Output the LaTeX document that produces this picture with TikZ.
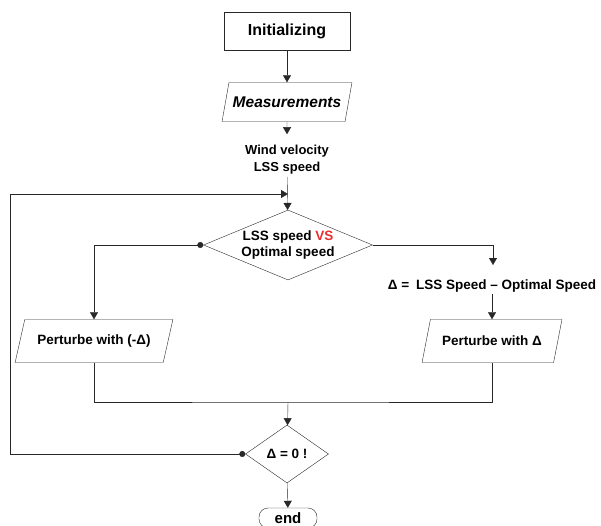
\documentclass[tikz,border=0pt]{standalone}
\usepackage{fontspec}
\setmainfont{Liberation Sans}
\usepackage{tikz}
\usepackage{xcolor}
\usetikzlibrary{shapes.geometric,arrows.meta}
\definecolor{vsred}{RGB}{235, 45, 45}
\definecolor{linegray}{RGB}{40, 40, 40}
\tikzstyle{process} = [
    rectangle,
    minimum width=126pt,
    minimum height=38pt,
    text centered,
    draw=linegray,
    font=\bfseries\fontsize{16}{18}\selectfont
]
\tikzstyle{io} = [
    trapezium,
    trapezium left angle=67,
    trapezium right angle=113,
    trapezium stretches=true,
    minimum height=43pt,
    inner xsep=2pt,
    text centered,
    draw=linegray,
    font=\bfseries\fontsize{13.5}{16}\selectfont
]
\tikzstyle{decision} = [
    diamond,
    inner sep=0pt,
    align=center,
    draw=linegray,
    font=\bfseries\fontsize{13.5}{16}\selectfont
]
\tikzstyle{label} = [
    align=center,
    inner sep=2pt,
    font=\bfseries\fontsize{13}{17}\selectfont
]
\tikzstyle{arrow} = [
    -{Triangle[length=7pt,width=8pt]},
    draw=linegray
]
\tikzstyle{dotarrow} = [
    {Circle[length=6pt]}-{Triangle[length=7pt,width=8pt]},
    draw=linegray
]

\begin{document}
\begin{tikzpicture}[x=1pt,y=-1pt]
    \useasboundingbox (0,0) rectangle (601,526);
    \node[process] (init) at (287,31) {Initializing};
    \node[io, minimum width=130pt, trapezium left angle=69, trapezium right angle=111,
          minimum height=39pt, font=\bfseries\itshape\fontsize{15.5}{18}\selectfont]
        (meas) at (287,102) {Measurements};
    \node[label] (wind) at (287,160) {Wind velocity\\LSS speed};
    \node[decision, aspect=2.4, minimum width=169pt, minimum height=70pt] (cmp) at (288,245)
        {LSS speed \textcolor{vsred}{VS}\\Optimal speed};
    \node[label, font=\bfseries\fontsize{13.5}{16}\selectfont] (delta) at (492,286)
        {Δ =\enspace LSS Speed -- Optimal Speed};
    \node[io, minimum width=158pt] (pl) at (94,341) {Perturbe with (-Δ)};
    \node[io, minimum width=140pt] (pr) at (492,341) {Perturbe with Δ};
    \node[decision, aspect=1.43, minimum width=83pt, minimum height=58pt] (check) at (287,454)
        {Δ = 0 !};
    \node[draw=linegray, rounded corners=9pt, minimum width=58pt, minimum height=20pt,
          inner sep=1pt, font=\bfseries\fontsize{15}{16}\selectfont] (stop) at (288,518) {end};

    \coordinate (loopin) at (288,194);
    \coordinate (rdown) at (493,265);
    \coordinate (join) at (288,402);

    \draw[arrow] (init) -- (meas);
    \draw[arrow, shorten >=9pt] (meas) -- (wind);
    \draw[arrow] (wind) -- (cmp);
    \draw[dotarrow] (cmp.west) -| (pl.north);
    \draw[arrow] (cmp.east) -| (rdown);
    \draw[arrow] (delta.south -| pr.north) -- (pr.north);
    \draw[draw=linegray] (pl.south) |- (join) -| (pr.south);
    \draw[arrow] (join) -- (check);
    \draw[dotarrow] (check.west) -- (10,454) -- (10,194) -- (loopin);
    \draw[arrow] (check) -- (stop);
\end{tikzpicture}
\end{document}
